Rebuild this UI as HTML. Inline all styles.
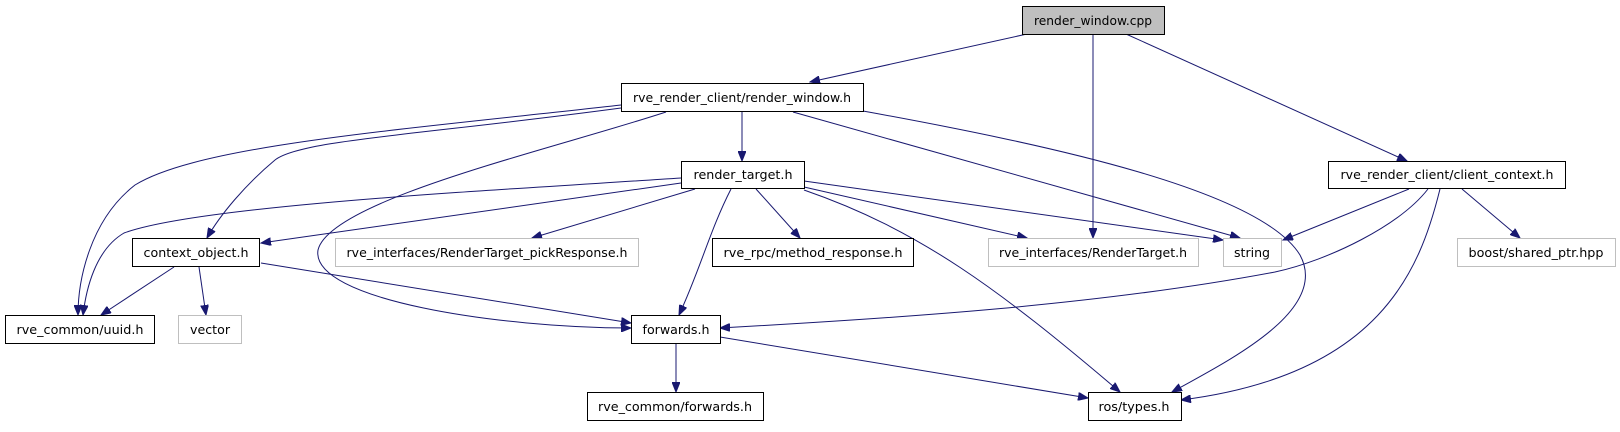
<!DOCTYPE html>
<html><head><meta charset="utf-8"><style>
html,body{margin:0;padding:0;background:#fff;}
svg text{font-family:"DejaVu Sans","Liberation Sans",sans-serif;font-size:12px;fill:#000;}
</style></head><body>
<svg width="1620" height="427" viewBox="0 0 1620 427" xmlns="http://www.w3.org/2000/svg">
<defs>
<marker id="a" markerWidth="11" markerHeight="8" refX="10" refY="4" orient="auto" markerUnits="userSpaceOnUse">
<path d="M0,0 L10,4 L0,8 z" fill="#191970" stroke="#191970"/>
</marker>
</defs>
<g fill="none" stroke="#191970" stroke-width="1" marker-end="url(#a)">
<path d="M1027,34 L810,82"/>
<path d="M1093,34 L1093,238"/>
<path d="M1126,34 L1407,161"/>
<path d="M742,111 L742,161"/>
<path d="M621,105 C400,130 200,145 135,185 C90,220 78,280 78,315"/>
<path d="M621,108 C420,135 300,140 275,160 C245,185 220,215 207,238"/>
<path d="M666,112 C550,150 330,200 318,250 C310,300 500,328 631,328"/>
<path d="M793,112 L1240,238"/>
<path d="M863,111 C1050,145 1260,190 1300,255 C1330,310 1230,360 1172,392"/>
<path d="M681,178 C500,190 200,205 124,233 C95,250 86,290 83,315"/>
<path d="M681,183 L261,243"/>
<path d="M695,189 L532,238"/>
<path d="M756,189 L800,238"/>
<path d="M731,189 C710,230 700,270 679,315"/>
<path d="M804,187 L1027,238"/>
<path d="M804,181 L1223,240"/>
<path d="M804,190 C920,230 1000,290 1120,392"/>
<path d="M1409,189 L1283,240"/>
<path d="M1428,189 C1400,225 1330,260 1275,272 C1100,305 900,318 720,328"/>
<path d="M1440,189 C1420,270 1380,375 1181,400"/>
<path d="M1462,189 L1520,238"/>
<path d="M174,267 L101,315"/>
<path d="M199,267 L206,315"/>
<path d="M261,263 L631,323"/>
<path d="M676,343 L676,392"/>
<path d="M720,337 L1088,398"/>
</g>
<g stroke-width="1">
<rect x="1022.5" y="6.5" width="142" height="28" fill="#bfbfbf" stroke="#000"/>
<rect x="621.5" y="83.5" width="242" height="28" fill="#fff" stroke="#000"/>
<rect x="681.5" y="161.5" width="123" height="27" fill="#fff" stroke="#000"/>
<rect x="1328.5" y="161.5" width="237" height="27" fill="#fff" stroke="#000"/>
<rect x="132.5" y="238.5" width="127" height="28" fill="#fff" stroke="#000"/>
<rect x="335.5" y="238.5" width="303" height="28" fill="#fff" stroke="#bfbfbf"/>
<rect x="712.5" y="238.5" width="201" height="28" fill="#fff" stroke="#000"/>
<rect x="988.5" y="238.5" width="210" height="28" fill="#fff" stroke="#bfbfbf"/>
<rect x="1223.5" y="238.5" width="58" height="28" fill="#fff" stroke="#bfbfbf"/>
<rect x="1457.5" y="238.5" width="158" height="28" fill="#fff" stroke="#bfbfbf"/>
<rect x="5.5" y="315.5" width="149" height="28" fill="#fff" stroke="#000"/>
<rect x="178.5" y="315.5" width="63" height="28" fill="#fff" stroke="#bfbfbf"/>
<rect x="631.5" y="315.5" width="89" height="28" fill="#fff" stroke="#000"/>
<rect x="587.5" y="392.5" width="176" height="28" fill="#fff" stroke="#000"/>
<rect x="1088.5" y="392.5" width="93" height="28" fill="#fff" stroke="#000"/>
</g>
<g text-anchor="middle">
<text x="1093" y="25" textLength="118" lengthAdjust="spacingAndGlyphs">render_window.cpp</text>
<text x="742" y="102" textLength="218" lengthAdjust="spacingAndGlyphs">rve_render_client/render_window.h</text>
<text x="743" y="179" textLength="99" lengthAdjust="spacingAndGlyphs">render_target.h</text>
<text x="1447" y="179" textLength="213" lengthAdjust="spacingAndGlyphs">rve_render_client/client_context.h</text>
<text x="196" y="257" textLength="105" lengthAdjust="spacingAndGlyphs">context_object.h</text>
<text x="487" y="257" textLength="281" lengthAdjust="spacingAndGlyphs">rve_interfaces/RenderTarget_pickResponse.h</text>
<text x="813" y="257" textLength="179" lengthAdjust="spacingAndGlyphs">rve_rpc/method_response.h</text>
<text x="1093" y="257" textLength="188" lengthAdjust="spacingAndGlyphs">rve_interfaces/RenderTarget.h</text>
<text x="1252" y="257" textLength="36" lengthAdjust="spacingAndGlyphs">string</text>
<text x="1536" y="257" textLength="135" lengthAdjust="spacingAndGlyphs">boost/shared_ptr.hpp</text>
<text x="80" y="334" textLength="127" lengthAdjust="spacingAndGlyphs">rve_common/uuid.h</text>
<text x="210" y="334" textLength="40" lengthAdjust="spacingAndGlyphs">vector</text>
<text x="676" y="334" textLength="67" lengthAdjust="spacingAndGlyphs">forwards.h</text>
<text x="675" y="411" textLength="154" lengthAdjust="spacingAndGlyphs">rve_common/forwards.h</text>
<text x="1134" y="411" textLength="71" lengthAdjust="spacingAndGlyphs">ros/types.h</text>
</g>
</svg>
</body></html>
